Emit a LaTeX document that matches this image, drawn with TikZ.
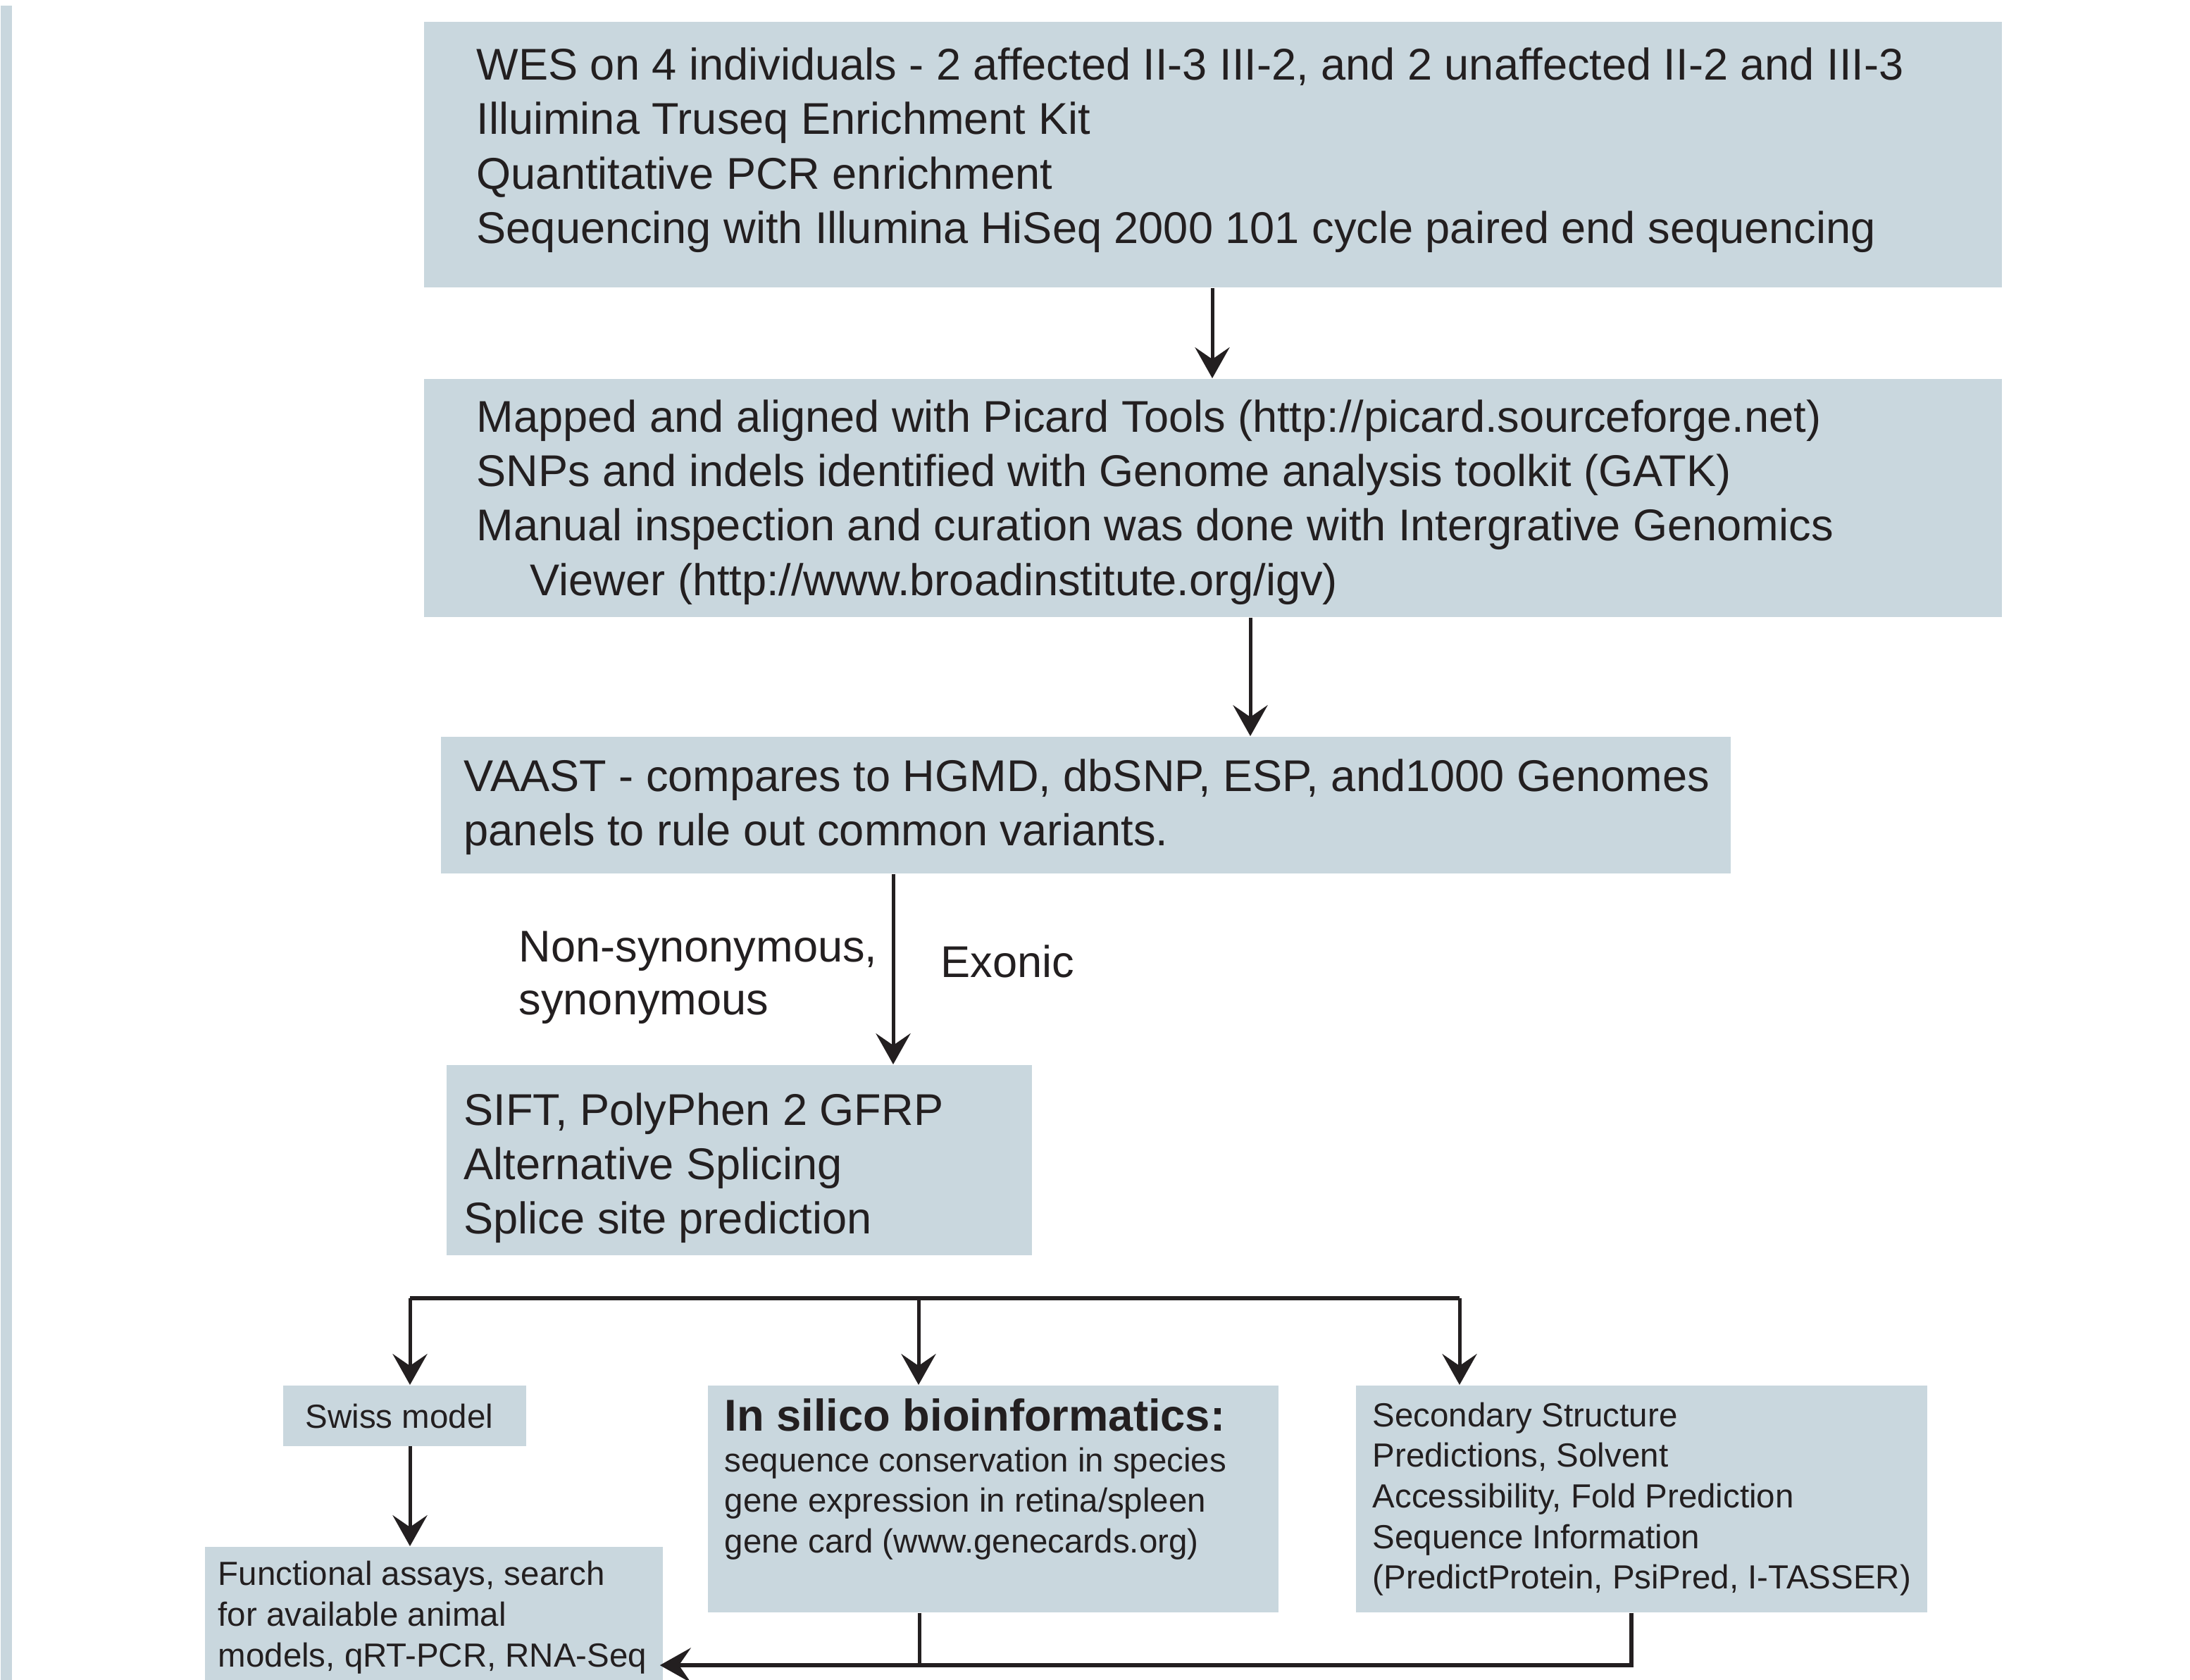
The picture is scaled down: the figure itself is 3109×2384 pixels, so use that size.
\documentclass[tikz,border=0pt]{standalone}
\usepackage{fontspec}
\setmainfont{Liberation Sans}
\usetikzlibrary{arrows.meta}
\definecolor{boxfill}{HTML}{C9D7DE}
\definecolor{ink}{HTML}{231F20}
\begin{document}
\begin{tikzpicture}[x=0.01cm,y=-0.01cm,
  box/.style={fill=boxfill, draw=none, inner sep=0, anchor=north west},
  big/.style={font=\fontsize{17.95}{22}\selectfont, text=ink, inner sep=0, anchor=base west},
  small/.style={font=\fontsize{13.5}{16.4}\selectfont, text=ink, inner sep=0, anchor=base west},
  arr/.style={-{Stealth[length=12.5pt,width=14pt,inset=4.8pt]}, line width=1.42pt, draw=ink},
  thinline/.style={line width=1.42pt, draw=ink},
  thickline/.style={line width=1.5pt, draw=ink},
]
\useasboundingbox (0,0) rectangle (3109,2384);
% left bar
\node[box, minimum width=0.16cm, minimum height=23.77cm] (lb) at (0,7) {};
% boxes
\node[box, minimum width=22.39cm, minimum height=3.77cm] (b1) at (601,30) {};
\node[box, minimum width=22.39cm, minimum height=3.38cm] (b2) at (601,537) {};
\node[box, minimum width=18.30cm, minimum height=1.94cm] (b3) at (625,1045) {};
\node[box, minimum width=8.31cm, minimum height=2.70cm] (b4) at (633,1511) {};
\node[box, minimum width=3.45cm, minimum height=0.86cm] (sw) at (401,1966) {};
\node[box, minimum width=6.50cm, minimum height=1.89cm] (fn) at (290,2195) {};
\node[box, minimum width=8.10cm, minimum height=3.22cm] (is) at (1004,1966) {};
\node[box, minimum width=8.11cm, minimum height=3.22cm] (ss) at (1924,1966) {};
% texts
\node[big] (t1) at (676,113.5) {\begin{tabular}[t]{@{}l@{}}WES on 4 individuals - 2 affected II-3 III-2, and 2 unaffected II-2 and III-3\\ Illuimina Truseq Enrichment Kit\\ Quantitative PCR enrichment\\ Sequencing with Illumina HiSeq 2000 101 cycle paired end sequencing\end{tabular}};
\node[big] (t2) at (676,613) {\begin{tabular}[t]{@{}l@{}}Mapped and aligned with Picard Tools (http://picard.sourceforge.net)\\ SNPs and indels identified with Genome analysis toolkit (GATK)\\ Manual inspection and curation was done with Intergrative Genomics\\ \hspace{0.76cm}Viewer (http://www.broadinstitute.org/igv)\end{tabular}};
\node[big] (t3) at (658,1123) {\begin{tabular}[t]{@{}l@{}}VAAST - compares to HGMD, dbSNP, ESP, and1000 Genomes\\ panels to rule out common variants.\end{tabular}};
\node[big, font=\fontsize{17.95}{21.4}\selectfont] (lbl1) at (736,1365) {\begin{tabular}[t]{@{}l@{}}Non-synonymous,\\ synonymous\end{tabular}};
\node[big] (lbl2) at (1335,1387) {Exonic};
\node[big] (t4) at (658,1597) {\begin{tabular}[t]{@{}l@{}}SIFT, PolyPhen 2 GFRP\\ Alternative Splicing\\ Splice site prediction\end{tabular}};
\node[small] (tsw) at (433,2027) {Swiss model};
\node[big, font=\fontsize{18}{22}\selectfont\bfseries] (tist) at (1028,2031) {In silico bioinformatics:};
\node[small] (tis) at (1028,2089) {\begin{tabular}[t]{@{}l@{}}sequence conservation in species\\ gene expression in retina/spleen\\ gene card (www.genecards.org)\end{tabular}};
\node[small, font=\fontsize{13.5}{16.5}\selectfont] (tfn) at (309,2250) {\begin{tabular}[t]{@{}l@{}}Functional assays, search\\ for available animal\\ models, qRT-PCR, RNA-Seq\end{tabular}};
\node[small] (tss) at (1948,2025) {\begin{tabular}[t]{@{}l@{}}Secondary Structure\\ Predictions, Solvent\\ Accessibility, Fold Prediction\\ Sequence Information\\ (PredictProtein, PsiPred, I-TASSER)\end{tabular}};
% connector x positions
\coordinate (x1) at (1721,0);
\coordinate (x2) at (1775,0);
\coordinate (x3) at (1268,0);
\coordinate (busL) at (582,1843);
\coordinate (busM) at (1304,1843);
\coordinate (busR) at (2072,1843);
\coordinate (botM) at (1305,2364);
\coordinate (botR) at (2316,2364);
% connectors
\draw[arr] (b1.south -| x1) -- (b2.north -| x1);
\draw[arr] (b2.south -| x2) -- (b3.north -| x2);
\draw[arr] (b3.south -| x3) -- (b4.north -| x3);
\draw[thickline] (busL) -- (busR);
\draw[arr] (busL) -- (sw.north -| busL);
\draw[arr] (busM) -- (is.north -| busM);
\draw[arr] (busR) -- (ss.north -| busR);
\draw[arr] (sw.south -| busL) -- (fn.north -| busL);
\draw[thinline] (is.south -| botM) -- (botM);
\draw[arr, line width=1.6pt] (ss.south -| botR) -- (botR) -- ([xshift=-0.05cm]fn.east |- botR);
\end{tikzpicture}
\end{document}
